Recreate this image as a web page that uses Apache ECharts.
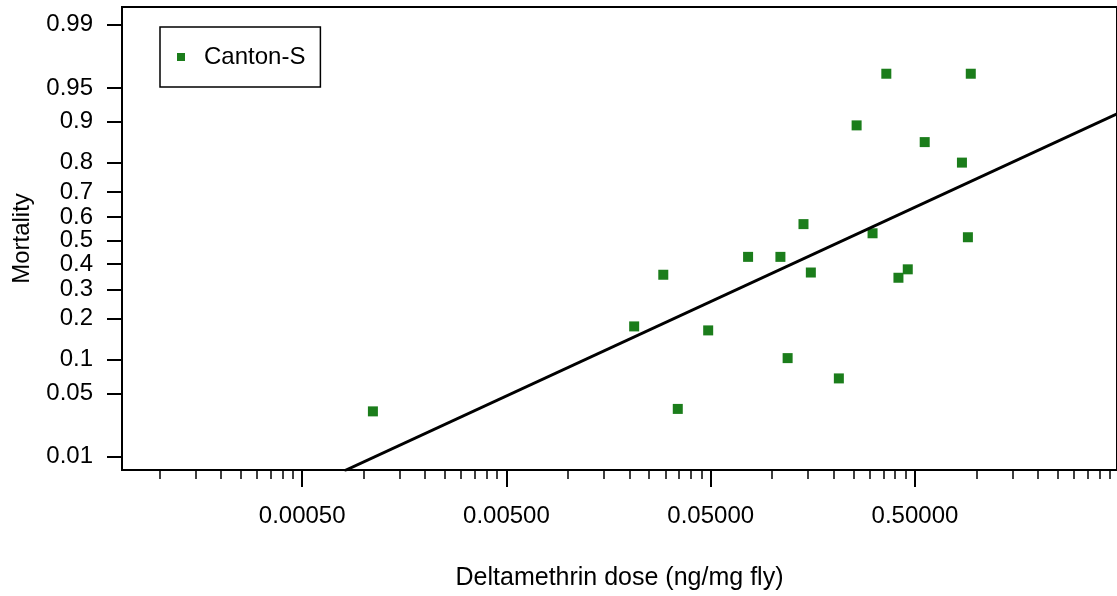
<!DOCTYPE html>
<html>
<head>
<meta charset="utf-8">
<script src="https://cdn.jsdelivr.net/npm/echarts@6/dist/echarts.min.js"></script>
<style>
html,body{margin:0;padding:0;background:#fff;}
#chart{width:1117px;height:596px;}
</style>
</head>
<body>
<div id="chart"></div>
<script>
// ---- data ----
const seriesName = 'Canton-S';
const doses = [0.00111, 0.0211, 0.0293, 0.0345, 0.0486, 0.0762, 0.1097, 0.119, 0.1423, 0.1546,
               0.212, 0.259, 0.310, 0.362, 0.415, 0.461, 0.558, 0.849, 0.908, 0.938];
const mortality = [0.033, 0.178, 0.357, 0.035, 0.167, 0.431, 0.431, 0.103, 0.571, 0.366,
                   0.069, 0.893, 0.532, 0.964, 0.345, 0.379, 0.856, 0.800, 0.515, 0.964];
// fitted probit line (end points)
const fitDoses = [0.000805, 5.0];
const fitMortality = [0.0066, 0.9157];
// tick labels
const yTickValues = [0.01, 0.05, 0.1, 0.2, 0.3, 0.4, 0.5, 0.6, 0.7, 0.8, 0.9, 0.95, 0.99];
const yTickLabels = ['0.01', '0.05', '0.1', '0.2', '0.3', '0.4', '0.5', '0.6', '0.7', '0.8', '0.9', '0.95', '0.99'];
const xMajorTicks = [0.0005, 0.005, 0.05, 0.5];
const xMajorLabels = ['0.00050', '0.00500', '0.05000', '0.50000'];
const xMinorMultipliers = [1, 1.5, 2, 2.5, 3, 3.5, 4, 4.5];
const xMinorDecades = [-4, -3, -2, -1, 0];
const xTitle = 'Deltamethrin dose (ng/mg fly)';
const yTitle = 'Mortality';

// ---- scale transforms ----
function probit(p) {
  const a = [-3.969683028665376e+01, 2.209460984245205e+02, -2.759285104469687e+02, 1.383577518672690e+02, -3.066479806614716e+01, 2.506628277459239e+00];
  const b = [-5.447609879822406e+01, 1.615858368580409e+02, -1.556989798598866e+02, 6.680131188771972e+01, -1.328068155288572e+01];
  const c = [-7.784894002430293e-03, -3.223964580411365e-01, -2.400758277161838e+00, -2.549732539343734e+00, 4.374664141464968e+00, 2.938163982698783e+00];
  const d = [7.784695709041462e-03, 3.224671290700398e-01, 2.445134137142996e+00, 3.754408661907416e+00];
  const pl = 0.02425, ph = 1 - pl;
  let q, r;
  if (p < pl) {
    q = Math.sqrt(-2 * Math.log(p));
    return (((((c[0]*q+c[1])*q+c[2])*q+c[3])*q+c[4])*q+c[5]) / ((((d[0]*q+d[1])*q+d[2])*q+d[3])*q+1);
  } else if (p <= ph) {
    q = p - 0.5; r = q*q;
    return (((((a[0]*r+a[1])*r+a[2])*r+a[3])*r+a[4])*r+a[5])*q / (((((b[0]*r+b[1])*r+b[2])*r+b[3])*r+b[4])*r+1);
  } else {
    q = Math.sqrt(-2 * Math.log(1 - p));
    return -(((((c[0]*q+c[1])*q+c[2])*q+c[3])*q+c[4])*q+c[5]) / ((((d[0]*q+d[1])*q+d[2])*q+d[3])*q+1);
  }
}
const lg = Math.log10;

const pts = doses.map((x, i) => [lg(x), probit(mortality[i])]);
const fit = fitDoses.map((x, i) => [lg(x), probit(fitMortality[i])]);
const yTicksZ = yTickValues.map(probit);
const xMajorL = xMajorTicks.map(lg);
const xMinorL = [];
xMinorDecades.forEach(k => xMinorMultipliers.forEach(m => xMinorL.push(lg(m) + k)));

function findLabel(v, vals, labels) {
  for (let i = 0; i < vals.length; i++) if (Math.abs(vals[i] - v) < 1e-6) return labels[i];
  return '';
}

const FONT = 'Liberation Sans, Arial, sans-serif';
const GREEN = '#1b7d1b';
const xMin = -4.183, xMax = 0.688;
const yMin = -2.470, yMax = 2.518;

const chart = echarts.init(document.getElementById('chart'), null, {renderer: 'canvas'});
chart.setOption({
  animation: false,
  backgroundColor: '#fff',
  grid: {left: 122, top: 7, width: 1005, height: 468, show: true, borderColor: '#000', borderWidth: 2, containLabel: false},
  legend: {
    left: 160, top: 27,
    data: [{name: seriesName, icon: 'rect', itemStyle: {color: GREEN, opacity: 1}}],
    itemWidth: 8, itemHeight: 8,
    borderColor: '#000', borderWidth: 1.5, borderRadius: 0,
    padding: [18, 15, 18, 17],
    textStyle: {fontFamily: FONT, fontSize: 24, color: '#000', padding: [0, 0, 0, 14]}
  },
  xAxis: [{
    type: 'value', min: xMin, max: xMax,
    name: xTitle, nameLocation: 'middle', nameGap: 96,
    nameTextStyle: {fontFamily: FONT, fontSize: 25, color: '#000'},
    axisLine: {show: true, onZero: false, lineStyle: {color: '#000', width: 2}},
    axisTick: {show: true, inside: false, length: 17, customValues: xMajorL, lineStyle: {color: '#000', width: 2}},
    axisLabel: {show: true, customValues: xMajorL, margin: 34, fontFamily: FONT, fontSize: 24, color: '#000',
      formatter: v => findLabel(v, xMajorL, xMajorLabels)},
    splitLine: {show: false}
  }, {
    type: 'value', min: xMin, max: xMax, position: 'bottom', gridIndex: 0,
    axisLine: {show: false, onZero: false},
    axisTick: {show: true, inside: false, length: 9, customValues: xMinorL, lineStyle: {color: '#000', width: 1.5}},
    axisLabel: {show: false},
    splitLine: {show: false}
  }],
  yAxis: {
    type: 'value', min: yMin, max: yMax,
    name: yTitle, nameLocation: 'middle', nameGap: 88, nameRotate: 90,
    nameTextStyle: {fontFamily: FONT, fontSize: 24, color: '#000'},
    axisLine: {show: true, onZero: false, lineStyle: {color: '#000', width: 2}},
    axisTick: {show: true, inside: false, length: 15, customValues: yTicksZ, lineStyle: {color: '#000', width: 2}},
    axisLabel: {show: true, customValues: yTicksZ, margin: 29, fontFamily: FONT, fontSize: 24, color: '#000',
      formatter: v => findLabel(v, yTicksZ, yTickLabels)},
    splitLine: {show: false}
  },
  series: [{
    name: seriesName, type: 'scatter', xAxisIndex: 0, yAxisIndex: 0,
    symbol: 'rect', symbolSize: 10,
    itemStyle: {color: GREEN, opacity: 1},
    data: pts
  }, {
    name: 'fit', type: 'line', xAxisIndex: 0, yAxisIndex: 0,
    showSymbol: false, symbol: 'none', clip: true,
    lineStyle: {color: '#000', width: 3},
    data: fit
  }]
});
</script>
</body>
</html>
